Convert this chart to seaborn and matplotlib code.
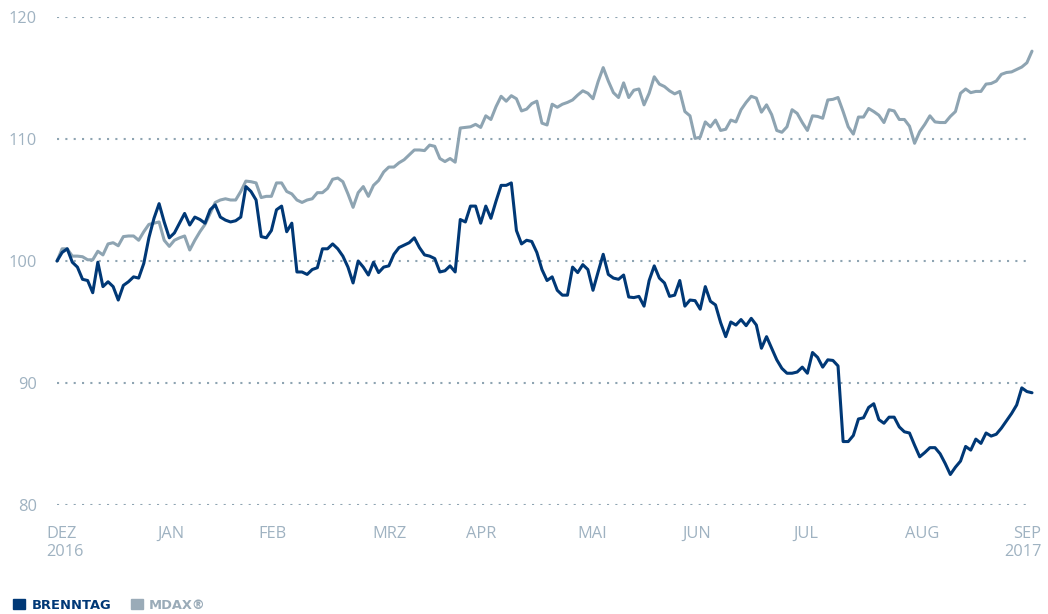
import matplotlib
matplotlib.use("Agg")
import matplotlib.pyplot as plt
from matplotlib.patches import Patch
import pandas as pd
import seaborn as sns

# indexed performance, one value per trading day (Dec 2016 = 100)
brenntag = [
    100.0, 100.7, 101.0, 99.9, 99.5, 98.5, 98.4, 97.4, 99.9, 97.9,
    98.3, 97.9, 96.8, 98.0, 98.3, 98.7, 98.6, 99.8, 101.9, 103.5,
    104.7, 103.2, 101.9, 102.3, 103.1, 103.9, 102.95, 103.6, 103.4, 103.1,
    104.2, 104.6, 103.6, 103.35, 103.2, 103.3, 103.6, 106.1, 105.7, 105.0,
    102.0, 101.9, 102.5, 104.2, 104.5, 102.4, 103.1, 99.1, 99.1, 98.9,
    99.3, 99.45, 101.0, 101.0, 101.4, 101.0, 100.4, 99.5, 98.2, 100.0,
    99.5, 98.85, 99.9, 99.05, 99.5, 99.6, 100.55, 101.1, 101.3, 101.5,
    101.9, 101.1, 100.5, 100.4, 100.2, 99.1, 99.2, 99.6, 99.1, 103.4,
    103.2, 104.5, 104.5, 103.1, 104.5, 103.5, 104.9, 106.2, 106.2, 106.4,
    102.5, 101.4, 101.7, 101.6, 100.7, 99.3, 98.4, 98.7, 97.6, 97.2,
    97.2, 99.5, 99.05, 99.7, 99.3, 97.6, 99.1, 100.55, 98.9, 98.6,
    98.5, 98.85, 97.05, 97.0, 97.1, 96.3, 98.4, 99.6, 98.6, 98.2,
    97.1, 97.2, 98.4, 96.3, 96.8, 96.75, 96.05, 97.9, 96.7, 96.4,
    94.95, 93.8, 95.0, 94.75, 95.2, 94.7, 95.3, 94.75, 92.85, 93.8,
    92.85, 91.9, 91.2, 90.8, 90.8, 90.9, 91.3, 90.8, 92.5, 92.1,
    91.3, 91.9, 91.85, 91.4, 85.2, 85.2, 85.7, 87.05, 87.15, 88.0,
    88.3, 87.0, 86.7, 87.2, 87.2, 86.4, 86.0, 85.9, 84.9, 83.95,
    84.3, 84.7, 84.7, 84.2, 83.4, 82.5, 83.1, 83.6, 84.8, 84.5,
    85.4, 85.05, 85.9, 85.65, 85.8, 86.3, 86.9, 87.5, 88.2, 89.6,
    89.3, 89.2,
]
mdax = [
    100.0, 101.0, 101.0, 100.4, 100.4, 100.35, 100.1, 100.1, 100.8, 100.5,
    101.4, 101.5, 101.25, 102.0, 102.05, 102.05, 101.7, 102.4, 103.0, 103.1,
    103.2, 101.7, 101.2, 101.7, 101.9, 102.05, 100.9, 101.7, 102.4, 103.0,
    103.9, 104.8, 105.0, 105.1, 105.0, 105.0, 105.7, 106.55, 106.5, 106.4,
    105.2, 105.3, 105.3, 106.4, 106.4, 105.7, 105.5, 105.0, 104.8, 105.0,
    105.1, 105.6, 105.6, 105.95, 106.7, 106.8, 106.5, 105.5, 104.4, 105.6,
    106.1, 105.3, 106.2, 106.6, 107.3, 107.7, 107.7, 108.05, 108.3, 108.7,
    109.1, 109.1, 109.05, 109.5, 109.4, 108.4, 108.15, 108.4, 108.1, 110.9,
    110.95, 111.0, 111.2, 110.95, 111.9, 111.6, 112.65, 113.5, 113.1, 113.55,
    113.3, 112.3, 112.45, 112.9, 113.1, 111.3, 111.15, 112.85, 112.6, 112.85,
    113.0, 113.2, 113.6, 113.95, 113.75, 113.3, 114.7, 115.85, 114.75, 113.8,
    113.4, 114.6, 113.4, 114.0, 114.1, 112.8, 113.75, 115.1, 114.5, 114.3,
    113.95, 113.7, 113.9, 112.25, 111.9, 110.05, 110.15, 111.4, 111.0, 111.55,
    110.7, 110.8, 111.55, 111.4, 112.4, 113.0, 113.5, 113.35, 112.2, 112.8,
    112.0, 110.7, 110.55, 111.0, 112.4, 112.1, 111.35, 110.7, 111.9, 111.85,
    111.7, 113.2, 113.25, 113.4, 112.25, 111.0, 110.4, 111.8, 111.8, 112.5,
    112.25, 111.95, 111.35, 112.4, 112.3, 111.6, 111.6, 111.05, 109.65, 110.6,
    111.2, 111.9, 111.4, 111.35, 111.35, 111.85, 112.25, 113.75, 114.1, 113.8,
    113.9, 113.9, 114.5, 114.55, 114.75, 115.3, 115.45, 115.5, 115.7, 115.9,
    116.25, 117.2,
]
month_labels = ["DEZ\n2016", "JAN", "FEB", "MRZ", "APR", "MAI", "JUN", "JUL", "AUG", "SEP\n2017"]
month_pos = [1.5, 22.3, 42.3, 65.2, 83.0, 104.9, 125.4, 146.6, 169.4, 189.2]
y_ticks = [80, 90, 100, 110, 120]

NAVY = "#003876"
GREY = "#8ea4b2"
LABEL = "#9fb2c1"

sns.set_theme(style="white")
plt.rcParams["font.family"] = ["Open Sans", "DejaVu Sans"]

n = len(brenntag)
df = pd.DataFrame({
    "day": list(range(n)) * 2,
    "value": brenntag + mdax,
    "series": ["BRENNTAG"] * n + ["MDAX®"] * len(mdax),
})

fig = plt.figure(figsize=(10.48, 6.14), dpi=100)
ax = fig.add_axes([57 / 1048, 109 / 614, 975 / 1048, 488 / 614])

sns.lineplot(data=df, x="day", y="value", hue="series", hue_order=["MDAX®", "BRENNTAG"],
             palette={"BRENNTAG": NAVY, "MDAX®": GREY}, estimator=None, linewidth=2.2,
             legend=False, ax=ax)
for line in ax.lines:
    line.set_clip_on(False)
    line.set_solid_joinstyle("round")

ax.set_xlim(0, n - 1)
ax.set_ylim(80, 120)
ax.set_yticks(y_ticks)
ax.set_xticks(month_pos, month_labels)
ax.set_xlabel("")
ax.set_ylabel("")
sns.despine(ax=ax, left=True, bottom=True)
ax.set_axisbelow(True)
ax.yaxis.grid(True, linestyle=(0, (1, 3)), linewidth=1.5, color=GREY)
ax.xaxis.grid(False)
ax.tick_params(axis="y", length=0, pad=14.4, labelsize=11.8, labelcolor=LABEL)
ax.tick_params(axis="x", length=0, pad=15, labelsize=11.8, labelcolor=LABEL)

xl = ax.get_xticklabels()
xl[0].set_multialignment("left")
xl[-1].set_multialignment("right")

handles = [Patch(color=NAVY), Patch(color="#9aabb8")]
fig.legend(handles, ["BRENNTAG", "MDAX®"], loc="lower left", bbox_to_anchor=(13 / 1048, 0.004),
           ncol=2, frameon=False, borderpad=0, borderaxespad=0, handlelength=0.95,
           handleheight=0.85, handletextpad=0.45, columnspacing=1.5,
           labelcolor=[NAVY, "#9aabb8"], prop={"family": "DejaVu Sans", "weight": "bold", "size": 9.4})

fig.savefig("out.png", dpi=100)
